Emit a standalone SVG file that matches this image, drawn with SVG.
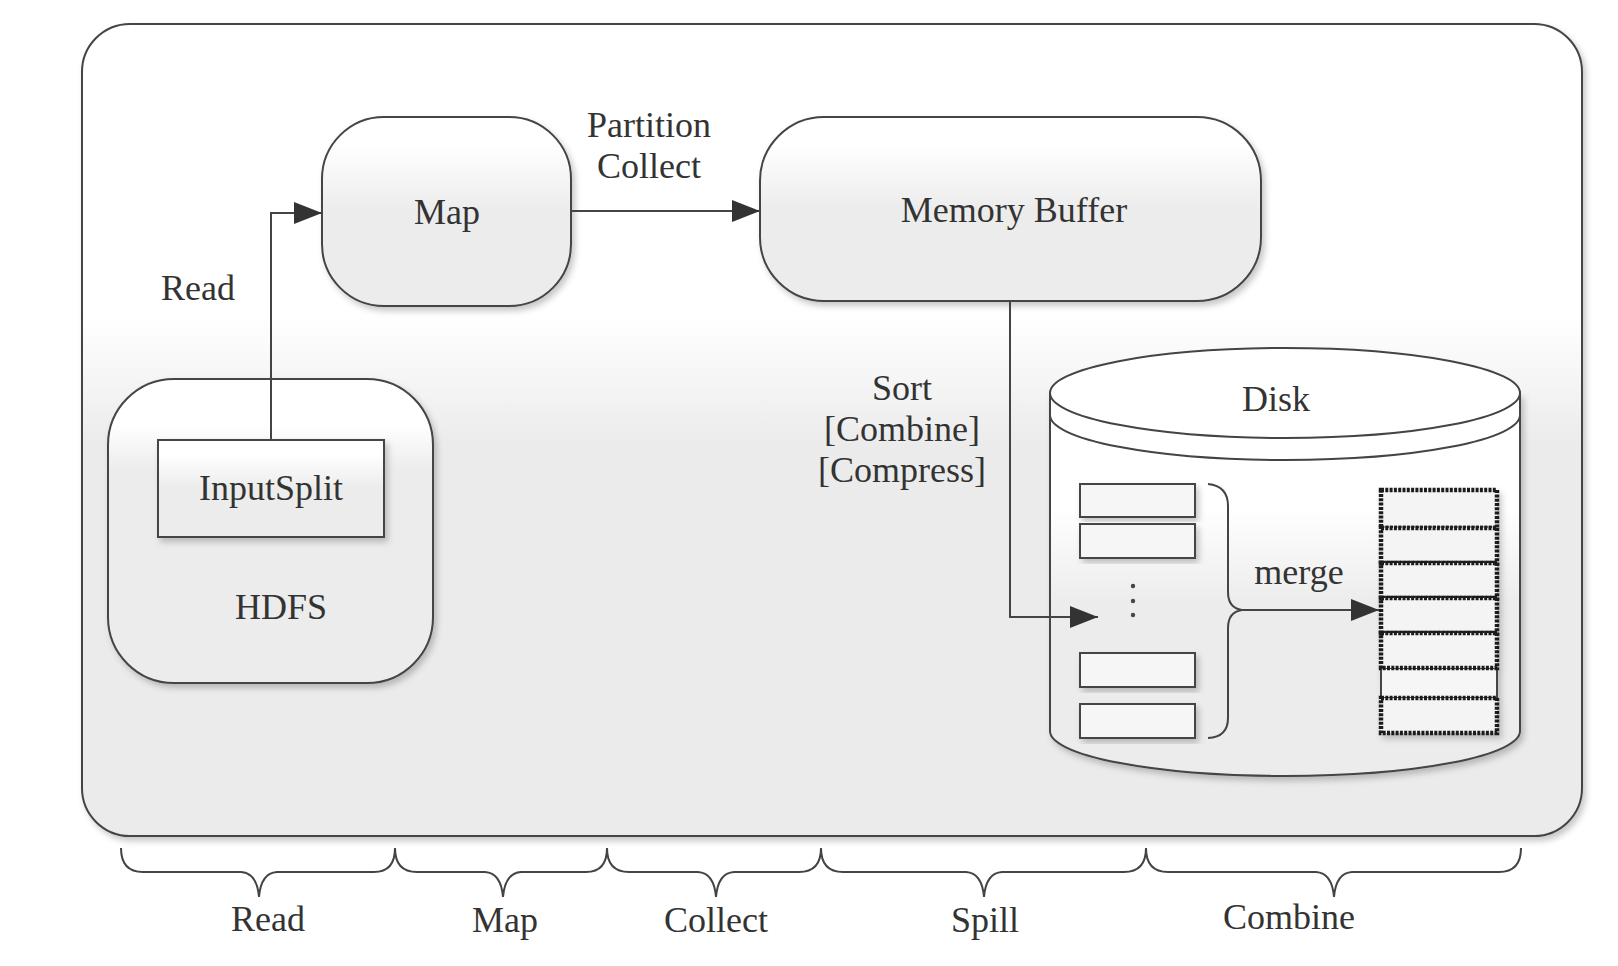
<svg xmlns="http://www.w3.org/2000/svg" width="1618" height="966" viewBox="0 0 1618 966">
<defs>
<style>
.ln{fill:none;stroke:#444;stroke-width:2}
.bx{stroke:#444;stroke-width:2}
.t{font-family:"Liberation Serif","Times New Roman",serif;font-size:36px;fill:#333;text-anchor:middle}
.cell{fill:#f4f4f4;stroke:#1e1e1e;stroke-width:4.5;stroke-dasharray:3 1.3}
.sm{fill:#f6f6f6;stroke:#444;stroke-width:2}
</style>
<linearGradient id="gFrame" x1="0" y1="0" x2="0" y2="1">
<stop offset="0.36" stop-color="#ffffff"/>
<stop offset="0.52" stop-color="#ebebeb"/>
<stop offset="1" stop-color="#ebebeb"/>
</linearGradient>
<linearGradient id="gBox" x1="0" y1="0" x2="0" y2="1">
<stop offset="0.15" stop-color="#ffffff"/>
<stop offset="0.5" stop-color="#ececec"/>
<stop offset="1" stop-color="#ececec"/>
</linearGradient>
<linearGradient id="gHdfs" x1="0" y1="0" x2="0" y2="1">
<stop offset="0.15" stop-color="#ffffff"/>
<stop offset="0.3" stop-color="#ececec"/>
<stop offset="1" stop-color="#ececec"/>
</linearGradient>
<linearGradient id="gDisk" x1="0" y1="0" x2="0" y2="1">
<stop offset="0.3" stop-color="#ffffff"/>
<stop offset="0.55" stop-color="#ececec"/>
<stop offset="1" stop-color="#ececec"/>
</linearGradient>
<filter id="sh" x="-10%" y="-10%" width="125%" height="125%">
<feDropShadow dx="3" dy="4" stdDeviation="3" flood-color="#000" flood-opacity="0.22"/>
</filter>
<marker id="arr" markerUnits="userSpaceOnUse" markerWidth="30" markerHeight="24" refX="28" refY="11" orient="auto">
<path d="M0,0 L28,11 L0,22 z" fill="#333"/>
</marker>
</defs>

<rect width="1618" height="966" fill="#ffffff"/>

<g id="frame">
<rect x="82" y="24" width="1500" height="812" rx="48" ry="48" fill="url(#gFrame)" class="bx" filter="url(#sh)"/>
</g>

<g id="map">
<rect x="322" y="117" width="249" height="189" rx="62" ry="62" fill="url(#gBox)" class="bx" filter="url(#sh)"/>
<text class="t" x="447" y="224">Map</text>
</g>

<g id="memory-buffer">
<rect x="760" y="117" width="501" height="184" rx="64" ry="64" fill="url(#gBox)" class="bx" filter="url(#sh)"/>
<text class="t" x="1014" y="222">Memory Buffer</text>
</g>

<g id="hdfs">
<rect x="108" y="379" width="325" height="304" rx="66" ry="66" fill="url(#gHdfs)" class="bx" filter="url(#sh)"/>
<text class="t" x="281" y="619">HDFS</text>
</g>

<g id="inputsplit">
<rect x="158" y="440" width="226" height="97" fill="url(#gBox)" class="bx" filter="url(#sh)"/>
<text class="t" x="271" y="500">InputSplit</text>
</g>

<g id="disk">
<path d="M1050,393 L1050,731 A235,45 0 0 0 1520,731 L1520,393" fill="url(#gDisk)" class="bx" filter="url(#sh)"/>
<ellipse cx="1285" cy="393" rx="235" ry="45" fill="#ffffff" class="bx"/>
<path d="M1050,415 A235,45 0 0 0 1520,415" class="ln"/>
<text class="t" x="1276" y="411">Disk</text>
</g>

<g id="spill-files">
<rect class="sm" x="1080" y="484" width="115" height="33" filter="url(#sh)"/>
<rect class="sm" x="1080" y="524" width="115" height="34" filter="url(#sh)"/>
<rect class="sm" x="1080" y="653" width="115" height="34" filter="url(#sh)"/>
<rect class="sm" x="1080" y="704" width="115" height="34" filter="url(#sh)"/>
<circle cx="1133" cy="586" r="2.2" fill="#444"/>
<circle cx="1133" cy="601" r="2.2" fill="#444"/>
<circle cx="1133" cy="615" r="2.2" fill="#444"/>
<path class="ln" d="M1208,484 Q1228,486 1228,506 L1228,592 Q1228,608 1242,610 Q1228,612 1228,628 L1228,718 Q1228,737 1208,738"/>
</g>

<g id="merged-file" filter="url(#sh)">
<rect x="1381" y="668" width="116" height="30" fill="#f6f6f6" stroke="#444" stroke-width="2"/>
<rect class="cell" x="1381" y="490" width="116" height="38"/>
<rect class="cell" x="1381" y="528" width="116" height="35"/>
<rect class="cell" x="1381" y="563" width="116" height="35"/>
<rect class="cell" x="1381" y="598" width="116" height="35"/>
<rect class="cell" x="1381" y="633" width="116" height="35"/>
<rect class="cell" x="1381" y="698" width="116" height="35"/>
</g>

<g id="connectors">
<path class="ln" d="M271,440 L271,213 L322,213" marker-end="url(#arr)"/>
<path class="ln" d="M571,211 L760,211" marker-end="url(#arr)"/>
<path class="ln" d="M1010,301 L1010,617 L1098,617" marker-end="url(#arr)"/>
<path class="ln" d="M1242,610 L1379,610" marker-end="url(#arr)"/>
</g>

<g id="labels">
<text class="t" x="198" y="300">Read</text>
<text class="t" x="649" y="137">Partition</text>
<text class="t" x="649" y="178">Collect</text>
<text class="t" x="902" y="400">Sort</text>
<text class="t" x="902" y="441">[Combine]</text>
<text class="t" x="902" y="482">[Compress]</text>
<text class="t" x="1299" y="584">merge</text>
</g>

<g id="phase-braces">
<path class="ln" d="M121,848 Q121,872 143,872 L241,872 Q257,873 259,897 Q261,873 277,872 L374,872 Q395,872 395,848"/>
<path class="ln" d="M395,848 Q395,872 417,872 L485,872 Q501,873 503,897 Q505,873 521,872 L586,872 Q607,872 607,848"/>
<path class="ln" d="M607,848 Q607,872 629,872 L698,872 Q714,873 716,897 Q718,873 734,872 L799,872 Q821,872 821,848"/>
<path class="ln" d="M821,848 Q821,872 843,872 L966,872 Q982,873 984,897 Q986,873 1002,872 L1124,872 Q1146,872 1146,848"/>
<path class="ln" d="M1146,848 Q1146,872 1168,872 L1316,872 Q1332,873 1334,897 Q1336,873 1352,872 L1499,872 Q1521,872 1521,848"/>
<text class="t" x="268" y="931">Read</text>
<text class="t" x="505" y="932">Map</text>
<text class="t" x="716" y="932">Collect</text>
<text class="t" x="985" y="932">Spill</text>
<text class="t" x="1289" y="929">Combine</text>
</g>
</svg>
